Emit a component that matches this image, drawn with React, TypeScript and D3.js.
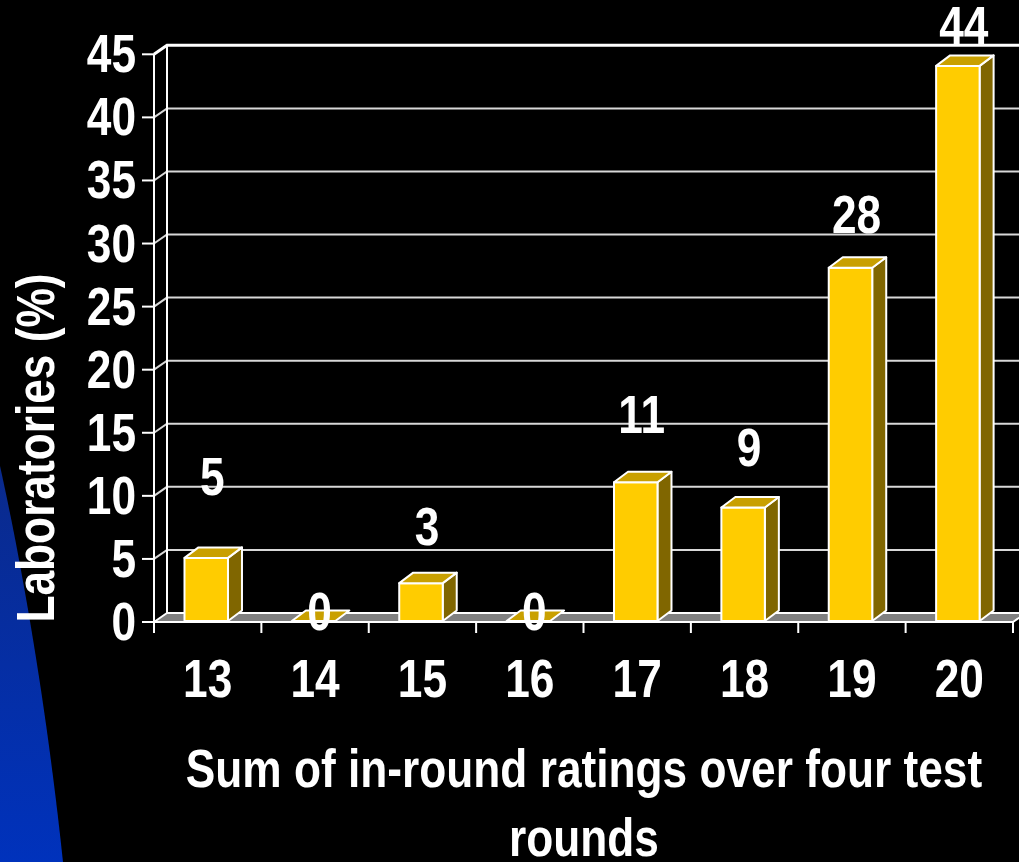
import React from "react";
import * as d3 from "d3";

const categories = ["13", "14", "15", "16", "17", "18", "19", "20"];
const values = [5, 0, 3, 0, 11, 9, 28, 44];
// value-axis level at which each data label's baseline sits
const labelLevels = [10.1, -0.6, 6.1, -0.6, 15.0, 12.4, 30.8, 45.8];
const yTicks = [0, 5, 10, 15, 20, 25, 30, 35, 40, 45];
const yTitle = "Laboratories (%)";
const xTitleLines = ["Sum of in-round ratings over four test", "rounds"];

const W = 1019;
const H = 862;
const FONT = "'Liberation Sans', Arial, Helvetica, sans-serif";
const SQUEEZE = 0.835;

const WALL_DX = 13;
const WALL_DY = -9;
const BAR_DX = 14;
const BAR_DY = -10.5;

const FRONT = "#FFCC00";
const TOP = "#C9A000";
const SIDE = "#806600";

function NText(props: {
  x: number;
  y: number;
  anchor?: string;
  size?: number;
  rotate?: number;
  children: React.ReactNode;
}) {
  const { x, y, anchor = "middle", size = 53, rotate = 0, children } = props;
  return (
    <text
      transform={`translate(${x},${y}) rotate(${rotate}) scale(${SQUEEZE},1)`}
      textAnchor={anchor}
      fontFamily={FONT}
      fontWeight="bold"
      fontSize={size}
      fill="#ffffff"
    >
      {children}
    </text>
  );
}

export default function App() {
  const x = d3.scaleBand<string>().domain(categories).range([154, 1013]).padding(0);
  const y = d3.scaleLinear().domain([0, 45]).range([622, 54.3]);
  const bw = x.bandwidth();
  const x0 = x.range()[0];
  const x1 = x.range()[1];
  const y0 = y(0);

  const floor = [
    [x0, y0],
    [x1, y0],
    [x1 + WALL_DX, y0 + WALL_DY],
    [x0 + WALL_DX, y0 + WALL_DY],
  ];

  const blue = "M0,466 C22,566 46,702 63,862 L0,862 Z";

  return (
    <svg
      width={W}
      height={H}
      viewBox={`0 0 ${W} ${H}`}
      style={{ position: "fixed", left: 0, top: 0, display: "block", background: "#000" }}
    >
      <defs>
        <linearGradient id="blueGrad" x1="0" y1="0" x2="0" y2="1">
          <stop offset="0" stopColor="#0a2a8c" />
          <stop offset="1" stopColor="#0032bc" />
        </linearGradient>
      </defs>
      <rect x={0} y={0} width={W} height={H} fill="#000" />
      <path d={blue} fill="url(#blueGrad)" />

      {/* floor */}
      <polygon
        points={floor.map((p) => p.join(",")).join(" ")}
        fill="#808080"
        stroke="#ffffff"
        strokeWidth={2}
        strokeLinejoin="round"
      />

      {/* gridlines */}
      {yTicks
        .filter((t) => t > 0)
        .map((t) => (
          <polyline
            key={`g${t}`}
            points={`${x0},${y(t)} ${x0 + WALL_DX},${y(t) + WALL_DY} ${W + 20},${y(t) + WALL_DY}`}
            fill="none"
            stroke={t === 45 ? "#ffffff" : "#d8d8d8"}
            strokeWidth={t === 45 ? 3 : 2}
          />
        ))}

      {/* back wall left edge */}
      <line
        x1={x0 + WALL_DX}
        y1={y0 + WALL_DY}
        x2={x0 + WALL_DX}
        y2={y(45) + WALL_DY}
        stroke="#ffffff"
        strokeWidth={2}
      />
      {/* y axis */}
      <line x1={x0} y1={y(45)} x2={x0} y2={y0 + 11} stroke="#ffffff" strokeWidth={2} />
      {yTicks.map((t) => (
        <line key={`yt${t}`} x1={x0 - 12} y1={y(t)} x2={x0} y2={y(t)} stroke="#ffffff" strokeWidth={2} />
      ))}
      {/* x ticks */}
      {categories.map((c) => (
        <line
          key={`xt${c}`}
          x1={(x(c) as number) + bw}
          y1={y0}
          x2={(x(c) as number) + bw}
          y2={y0 + 11}
          stroke="#ffffff"
          strokeWidth={2}
        />
      ))}

      {/* bars */}
      {categories.map((c, i) => {
        const v = values[i];
        const fx = (x(c) as number) + bw * 0.284;
        const fw = bw * 0.405;
        const yb = y(0) - 1;
        const yt = y(v) - 1;
        const front = `${fx},${yt} ${fx + fw},${yt} ${fx + fw},${yb} ${fx},${yb}`;
        const top = `${fx},${yt} ${fx + BAR_DX},${yt + BAR_DY} ${fx + fw + BAR_DX},${yt + BAR_DY} ${fx + fw},${yt}`;
        const side = `${fx + fw},${yt} ${fx + fw + BAR_DX},${yt + BAR_DY} ${fx + fw + BAR_DX},${yb + BAR_DY} ${fx + fw},${yb}`;
        return (
          <g key={`b${c}`} stroke="#ffffff" strokeWidth={2} strokeLinejoin="round">
            {v > 0 && <polygon points={side} fill={SIDE} />}
            {v > 0 && <polygon points={front} fill={FRONT} />}
            <polygon points={top} fill={TOP} />
          </g>
        );
      })}

      {/* data labels */}
      {categories.map((c, i) => (
        <NText key={`l${c}`} x={(x(c) as number) + bw * 0.284 + bw * 0.2025 + 6} y={y(labelLevels[i])} size={53}>
          {String(values[i])}
        </NText>
      ))}

      {/* y tick labels */}
      {yTicks.map((t) => (
        <NText key={`yl${t}`} x={136} y={y(t) + 18} anchor="end" size={53}>
          {String(t)}
        </NText>
      ))}

      {/* category labels */}
      {categories.map((c) => (
        <NText key={`xl${c}`} x={(x(c) as number) + bw / 2} y={697} size={53}>
          {c}
        </NText>
      ))}

      {/* axis titles */}
      <NText x={54} y={448} rotate={-90} size={53}>
        {yTitle}
      </NText>
      <NText x={584} y={787} size={53}>
        {xTitleLines[0]}
      </NText>
      <NText x={584} y={856} size={53}>
        {xTitleLines[1]}
      </NText>
    </svg>
  );
}
